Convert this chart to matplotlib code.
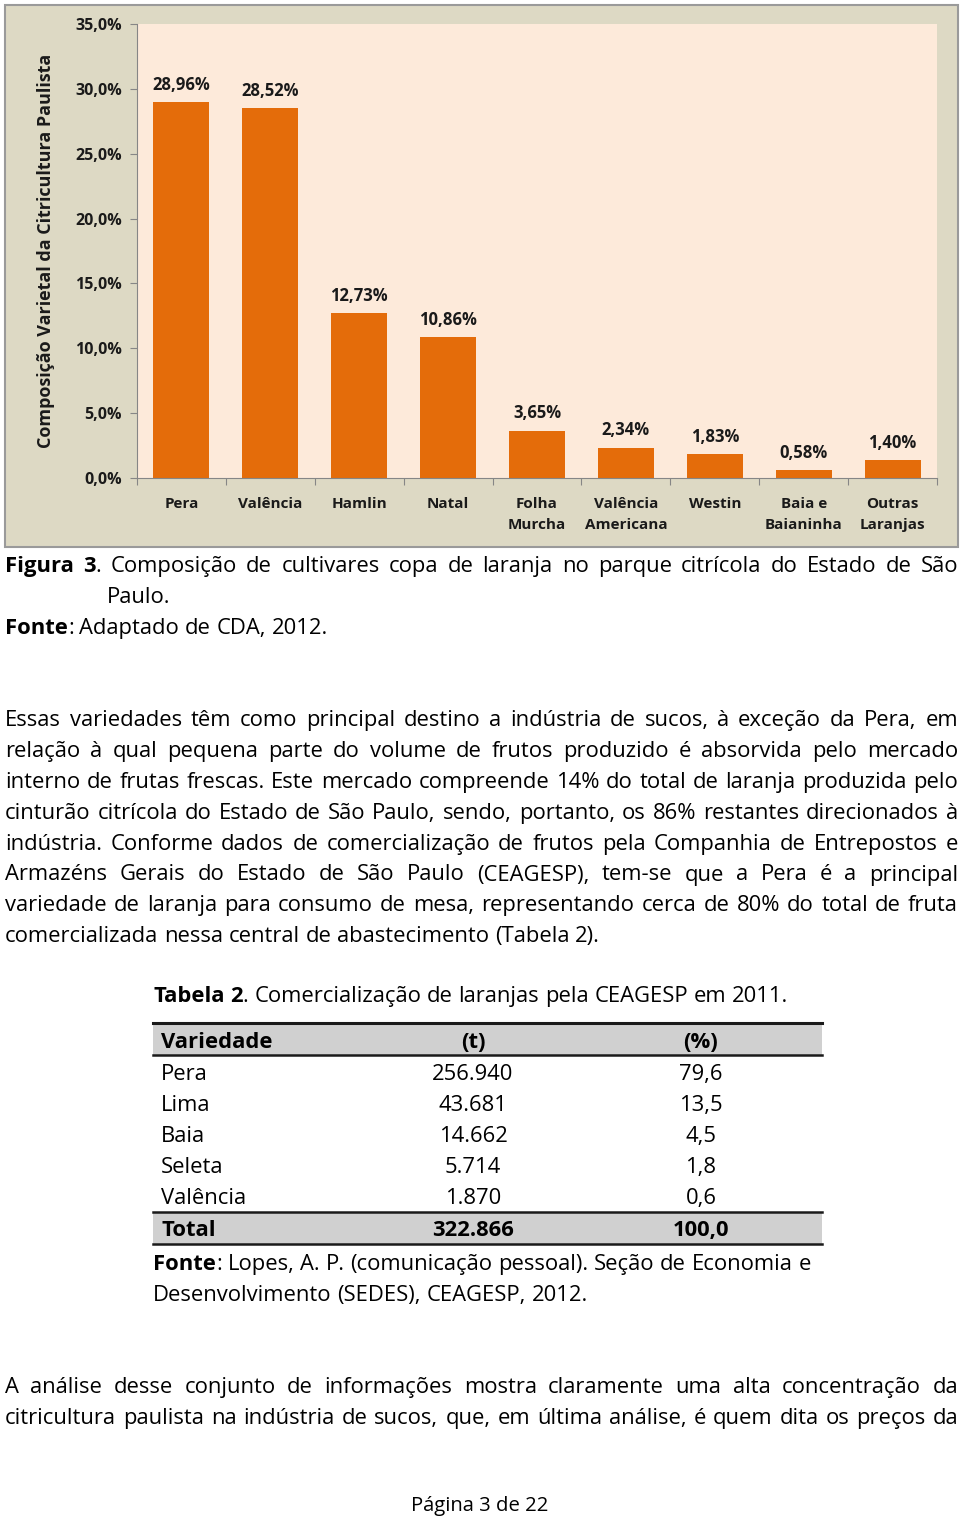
import numpy as np
import matplotlib
matplotlib.use('Agg')
import matplotlib.pyplot as plt
from matplotlib.patches import Rectangle
from matplotlib.lines import Line2D

plt.rcParams['font.family'] = ['Open Sans', 'DejaVu Sans']

# chart data
categorias = ['Pera', 'Valência', 'Hamlin', 'Natal', 'Folha\nMurcha', 'Valência\nAmericana',
              'Westin', 'Baia e\nBaianinha', 'Outras\nLaranjas']
composicao = [28.96, 28.52, 12.73, 10.86, 3.65, 2.34, 1.83, 0.58, 1.40]
yticks = [0, 5, 10, 15, 20, 25, 30, 35]

# table data
tab_variedade = ['Pera', 'Lima', 'Baia', 'Seleta', 'Valência']
tab_ton = [256940, 43681, 14662, 5714, 1870]
tab_pct = [79.6, 13.5, 4.5, 1.8, 0.6]
tab_total_ton = 322866
tab_total_pct = 100.0

# page text
caption_l1 = '**Figura 3**. Composição de cultivares copa de laranja no parque citrícola do Estado de São'
caption_l2 = 'Paulo.'
caption_fonte = '**Fonte**: Adaptado de CDA, 2012.'
par1 = [
    'Essas variedades têm como principal destino a indústria de sucos, à exceção da Pera, em',
    'relação à qual pequena parte do volume de frutos produzido é absorvida pelo mercado',
    'interno de frutas frescas. Este mercado compreende 14% do total de laranja produzida pelo',
    'cinturão citrícola do Estado de São Paulo, sendo, portanto, os 86% restantes direcionados à',
    'indústria. Conforme dados de comercialização de frutos pela Companhia de Entrepostos e',
    'Armazéns Gerais do Estado de São Paulo (CEAGESP), tem-se que a Pera é a principal',
    'variedade de laranja para consumo de mesa, representando cerca de 80% do total de fruta',
    'comercializada nessa central de abastecimento (Tabela 2).',
]
tab_caption = '**Tabela 2**. Comercialização de laranjas pela CEAGESP em 2011.'
tab_fonte = ['**Fonte**: Lopes, A. P. (comunicação pessoal). Seção de Economia e',
             'Desenvolvimento (SEDES), CEAGESP, 2012.']
par2 = [
    'A análise desse conjunto de informações mostra claramente uma alta concentração da',
    'citricultura paulista na indústria de sucos, que, em última análise, é quem dita os preços da',
]
rodape = 'Página 3 de 22'

W, H = 960, 1516
fig = plt.figure(figsize=(W / 100, H / 100), dpi=100)
fig.patch.set_facecolor('white')
renderer = fig.canvas.get_renderer()
FS = 15.8


def fx(x):
    return x / W


def fy(y):
    return 1 - y / H


def parse(line):
    # split into words, each a list of (text, bold) pieces
    bold = False
    words = []
    for w in line.split(' '):
        pieces = []
        parts = w.split('**')
        for k, p in enumerate(parts):
            if k > 0:
                bold = not bold
            if p:
                pieces.append((p, bold))
        words.append(pieces)
    return words


def width(s, bold, size):
    t = fig.text(0, 0, s, fontsize=size, weight='bold' if bold else 'normal')
    w = t.get_window_extent(renderer).width
    t.remove()
    return w


def draw_line(line, x0, y, x1=None, size=FS):
    words = parse(line)
    wws = [sum(width(p, b, size) for p, b in wd) for wd in words]
    if x1 is not None and len(words) > 1:
        gap = (x1 - x0 - sum(wws)) / (len(words) - 1)
    else:
        gap = width('a a', False, size) - 2 * width('a', False, size)
    x = x0
    for wd, ww in zip(words, wws):
        xx = x
        for p, b in wd:
            fig.text(fx(xx), fy(y), p, fontsize=size, weight='bold' if b else 'normal',
                     va='baseline', ha='left', color='black')
            xx += width(p, b, size)
        x += ww + gap


# ---- chart ----
fig.patches.append(Rectangle((fx(5), fy(547)), 953 / W, 542 / H, transform=fig.transFigure,
                             facecolor='#DDD9C4', edgecolor='#9a9a9a', lw=1.5, zorder=-5))

ax = fig.add_axes([fx(137), fy(478), 800 / W, 454 / H])
ax.set_facecolor('#FDEADA')
x = np.arange(len(categorias))
ax.bar(x, composicao, width=0.63, color='#E46C0A', zorder=2)
for i, v in enumerate(composicao):
    ax.text(i, v + 0.95, f'{v:.2f}%'.replace('.', ','), ha='center', va='baseline',
            fontsize=12, weight='bold', color='#1a1a1a')
ax.set_xlim(-0.5, len(categorias) - 0.5)
ax.set_ylim(0, 35)
ax.set_yticks(yticks)
ax.set_yticklabels([f'{t:.1f}%'.replace('.', ',') for t in yticks], fontsize=11.5,
                   weight='bold', color='#1a1a1a')
ax.set_xticks(np.arange(-0.5, len(categorias), 1))
ax.set_xticklabels([])
ax.set_xticks(x, minor=True)
ax.set_xticklabels(categorias, minor=True, fontsize=11, weight='bold', color='#1a1a1a',
                   va='top', linespacing=1.6)
ax.tick_params(axis='x', which='minor', length=0, pad=14)
ax.tick_params(axis='x', which='major', length=5, color='#868686', direction='out')
ax.tick_params(axis='y', length=5, color='#868686', direction='out', pad=6)
for s in ['top', 'right']:
    ax.spines[s].set_visible(False)
for s in ['left', 'bottom']:
    ax.spines[s].set_color('#868686')
ax.set_ylabel('Composição Varietal da Citricultura Paulista', fontsize=13, weight='bold',
              color='#1a1a1a')
ax.yaxis.set_label_coords(-0.102, 0.5)

# ---- caption ----
draw_line(caption_l1, 5, 572, 958)
draw_line(caption_l2, 107, 603)
draw_line(caption_fonte, 5, 634)

# ---- paragraph 1 ----
for k, line in enumerate(par1):
    y = 726 + k * 30.9
    draw_line(line, 5, y, 958 if k < len(par1) - 1 else None)

# ---- table ----
draw_line(tab_caption, 153, 1002)
tx0, tx1 = 153, 822
fig.patches.append(Rectangle((fx(tx0), fy(1055)), (tx1 - tx0) / W, 31 / H,
                             transform=fig.transFigure, facecolor='#D0D0D0', edgecolor='none'))
fig.patches.append(Rectangle((fx(tx0), fy(1244)), (tx1 - tx0) / W, 32 / H,
                             transform=fig.transFigure, facecolor='#D0D0D0', edgecolor='none'))
for yy, lw in [(1023, 2.2), (1055, 1.8), (1212, 1.8), (1244, 1.8)]:
    fig.lines.append(Line2D([fx(tx0), fx(tx1)], [fy(yy), fy(yy)], transform=fig.transFigure,
                            color='#1a1a1a', lw=lw))
c1, c2, c3 = 161, 473, 701
fig.text(fx(c1), fy(1048), 'Variedade', fontsize=FS, weight='bold', va='baseline')
fig.text(fx(c2), fy(1048), '(t)', fontsize=FS, weight='bold', va='baseline', ha='center')
fig.text(fx(c3), fy(1048), '(%)', fontsize=FS, weight='bold', va='baseline', ha='center')
for k, (nome, t, p) in enumerate(zip(tab_variedade, tab_ton, tab_pct)):
    y = 1080 + k * 30.9
    fig.text(fx(c1), fy(y), nome, fontsize=FS, va='baseline')
    fig.text(fx(c2), fy(y), f'{t:,}'.replace(',', '.'), fontsize=FS, va='baseline', ha='center')
    fig.text(fx(c3), fy(y), f'{p:.1f}'.replace('.', ','), fontsize=FS, va='baseline', ha='center')
fig.text(fx(c1), fy(1236), 'Total', fontsize=FS, weight='bold', va='baseline')
fig.text(fx(c2), fy(1236), f'{tab_total_ton:,}'.replace(',', '.'), fontsize=FS, weight='bold',
         va='baseline', ha='center')
fig.text(fx(c3), fy(1236), f'{tab_total_pct:.1f}'.replace('.', ','), fontsize=FS, weight='bold',
         va='baseline', ha='center')
draw_line(tab_fonte[0], 153, 1270)
draw_line(tab_fonte[1], 153, 1301)

# ---- paragraph 2 ----
for k, line in enumerate(par2):
    draw_line(line, 5, 1393 + k * 31, 958)

fig.text(0.5, fy(1511), rodape, fontsize=14.6, ha='center', va='baseline')

fig.savefig('out.png', dpi=100)
